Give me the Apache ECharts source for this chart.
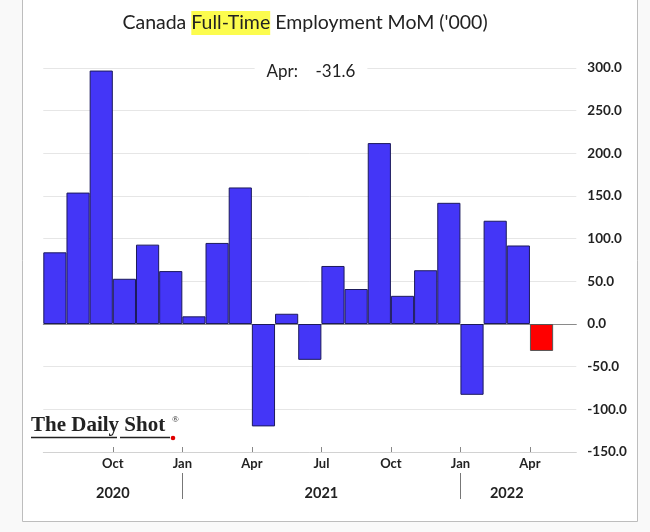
<!DOCTYPE html>
<html>
<head>
<meta charset="utf-8">
<script src="https://cdn.jsdelivr.net/npm/echarts@6/dist/echarts.min.js"></script>
<style>
html,body{margin:0;padding:0;background:#f9f9f9;}
#chart{width:650px;height:532px;}
</style>
</head>
<body>
<div id="chart"></div>
<script>
// Monthly categories Jul 2020 .. Apr 2022 (plus one empty slot at the end)
const months = ['Jul 2020','Aug 2020','Sep 2020','Oct 2020','Nov 2020','Dec 2020',
  'Jan 2021','Feb 2021','Mar 2021','Apr 2021','May 2021','Jun 2021',
  'Jul 2021','Aug 2021','Sep 2021','Oct 2021','Nov 2021','Dec 2021',
  'Jan 2022','Feb 2022','Mar 2022','Apr 2022',''];
const values = [84, 154, 297, 53, 93, 62, 9, 95, 160, -120, 12, -42,
  68, 41, 212, 33, 63, 142, -83, 121, 92, -31.6];
const tickPositions = [3, 6, 9, 12, 15, 18, 21];
const tickLabels = ['Oct', 'Jan', 'Apr', 'Jul', 'Oct', 'Jan', 'Apr'];
const yearPositions = [3, 12, 20];
const yearLabels = ['2020', '2021', '2022'];
const yearSeparators = [6, 18];
const latestLabel = 'Apr';

const last = values.length - 1;
const chart = echarts.init(document.getElementById('chart'), null, {renderer: 'canvas'});
const font = 'Lato, "Open Sans", sans-serif';

const option = {
  animation: false,
  grid: {left: 43.3, right: 73.7, top: 68, bottom: 80},
  xAxis: [
    {
      type: 'category', data: months, boundaryGap: true,
      axisLine: {onZero: true, lineStyle: {color: '#8a8a8a', width: 1}},
      axisTick: {show: false}, axisLabel: {show: false}, splitLine: {show: false}
    },
    {
      type: 'value', min: 0, max: 23, position: 'bottom',
      axisLine: {show: true, onZero: false, lineStyle: {color: '#d2d2d2'}},
      axisTick: {show: true, inside: true, length: 5, customValues: tickPositions, lineStyle: {color: '#888'}},
      axisLabel: {customValues: tickPositions, margin: 5,
        formatter: v => tickLabels[tickPositions.indexOf(v)] || '',
        fontFamily: font, fontWeight: 'bold', fontSize: 13, color: '#222'},
      splitLine: {show: false}
    },
    {
      type: 'value', min: 0, max: 23, position: 'bottom', offset: 21,
      axisLine: {show: false, onZero: false},
      axisTick: {show: true, length: 26, customValues: yearSeparators, lineStyle: {color: '#777'}},
      axisLabel: {customValues: yearPositions, margin: 13,
        formatter: v => yearLabels[yearPositions.indexOf(v)] || '',
        fontFamily: font, fontWeight: 'bold', fontSize: 14.5, color: '#222'},
      splitLine: {show: false}
    }
  ],
  yAxis: {
    type: 'value', position: 'right', min: -150, max: 300, interval: 50,
    axisLine: {show: false}, axisTick: {show: false},
    axisLabel: {formatter: v => v.toFixed(1), margin: 11, fontFamily: font,
      fontWeight: 'bold', fontSize: 13.5, color: '#222'},
    splitLine: {lineStyle: {color: '#e6e6e6', width: 1}}
  },
  series: [{
    type: 'bar', xAxisIndex: 0, yAxisIndex: 0,
    barCategoryGap: '0%',
    data: values.map((v, i) => i === last
      ? {value: v, itemStyle: {color: '#ff0000', borderColor: '#555'}}
      : v),
    itemStyle: {color: '#4436f7', borderColor: '#1c1a5c', borderWidth: 1}
  }],
  graphic: [
    {type: 'rect', z: -10, shape: {x: 22.5, y: -2, width: 615, height: 523.5},
      style: {fill: '#ffffff', stroke: '#bdbdbd', lineWidth: 1}},
    {type: 'text', x: 305, y: 23, z: 10,
      style: {
        text: '{n|Canada }{h|Full-Time}{n| Employment MoM (\'000)}',
        align: 'center', verticalAlign: 'middle',
        rich: {
          n: {fontFamily: font, fontSize: 19.5, fill: '#222'},
          h: {fontFamily: font, fontSize: 19.5, fill: '#222', backgroundColor: '#fcfc4e', padding: [2, 0, 2, 0]}
        }
      }},
    {type: 'text', x: 311, y: 72, z: 10,
      style: {
        text: latestLabel + ':    ' + values[last].toFixed(1),
        align: 'center', verticalAlign: 'middle',
        fontFamily: font, fontSize: 17, fill: '#222',
        backgroundColor: '#ffffff', padding: [4, 12, 4, 12]
      }},
    {type: 'text', x: 31, y: 426, z: 10,
      style: {text: 'The Daily Shot', fontFamily: '"Liberation Serif", "DejaVu Serif", serif',
        fontSize: 21, fontWeight: 'bold', fill: '#222', align: 'left', verticalAlign: 'middle'}},
    {type: 'text', x: 172, y: 420, z: 10,
      style: {text: '®', fontFamily: '"Liberation Serif", serif', fontSize: 9, fill: '#222',
        align: 'left', verticalAlign: 'middle'}},
    {type: 'line', z: 10, shape: {x1: 31, y1: 437.5, x2: 117, y2: 437.5}, style: {stroke: '#222', lineWidth: 1.3}},
    {type: 'line', z: 10, shape: {x1: 120, y1: 437.5, x2: 170, y2: 437.5}, style: {stroke: '#222', lineWidth: 1.3}},
    {type: 'circle', z: 11, shape: {cx: 173, cy: 438, r: 2.3}, style: {fill: '#e00000'}}
  ]
};
chart.setOption(option);
</script>
</body>
</html>
